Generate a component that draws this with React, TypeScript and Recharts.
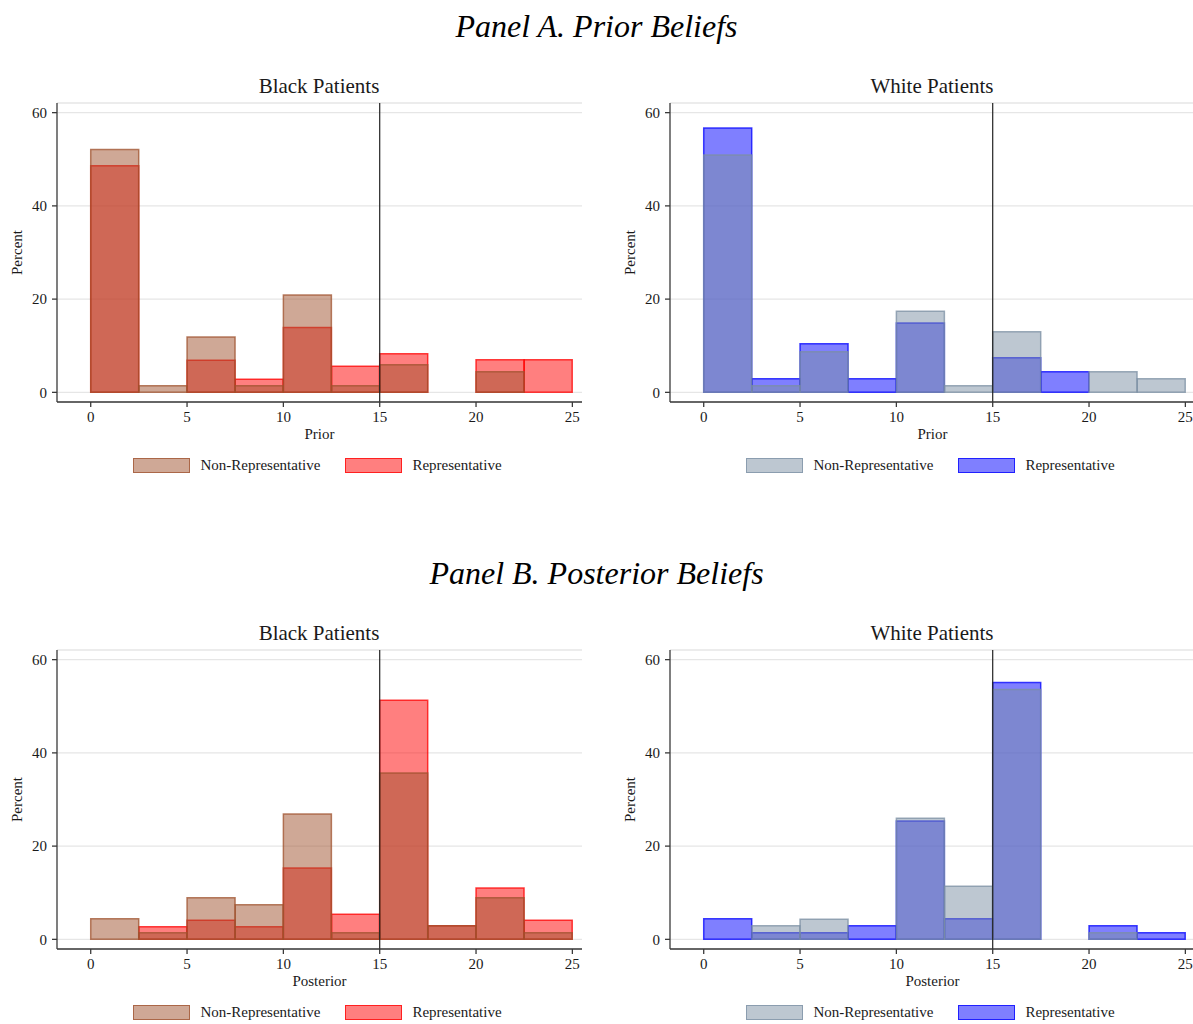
import React from 'react';
import { ComposedChart, Bar, XAxis, YAxis, CartesianGrid, ReferenceLine, Label } from 'recharts';

// histogram bins are 2.5 wide, 0 to 25
const binMids = [1.25, 3.75, 6.25, 8.75, 11.25, 13.75, 16.25, 18.75, 21.25, 23.75];
const xTicks = [0, 5, 10, 15, 20, 25];
const yTicks = [0, 20, 40, 60];
const cutoff = 15;

// Panel A: prior beliefs (percent)
const priorBlackNonRep = [52.1, 1.4, 11.9, 1.4, 20.9, 1.4, 5.9, 0, 4.4, 0];
const priorBlackRep = [48.6, 0, 6.9, 2.8, 13.9, 5.6, 8.3, 0, 7.0, 7.0];
const priorWhiteNonRep = [50.9, 1.4, 8.7, 0, 17.4, 1.4, 13.0, 0, 4.4, 2.9];
const priorWhiteRep = [56.7, 2.9, 10.4, 2.9, 14.9, 0, 7.4, 4.4, 0, 0];

// Panel B: posterior beliefs (percent)
const postBlackNonRep = [4.4, 1.4, 8.9, 7.4, 26.9, 1.4, 35.7, 2.9, 8.9, 1.4];
const postBlackRep = [0, 2.7, 4.1, 2.7, 15.3, 5.4, 51.3, 2.9, 11.0, 4.1];
const postWhiteNonRep = [0, 2.9, 4.3, 0, 26.0, 11.4, 53.6, 0, 1.4, 0];
const postWhiteRep = [4.4, 1.4, 1.4, 2.9, 25.4, 4.4, 55.1, 0, 2.9, 1.4];

const FONT = '"Liberation Serif", "Times New Roman", serif';
const TEXT = '#1a1a1a';
const AXIS = '#3a3a3a';

const blackColors = { non: '#9f512d', rep: '#ff0000' };
const whiteColors = { non: '#7b8fa3', rep: '#0000ff' };

const PercentLabel = (props: any) => {
  const vb = props.viewBox || { x: 0, y: 0, width: 0, height: 0 };
  const x = vb.x + 17;
  const y = vb.y + vb.height / 2;
  return (
    <text
      x={x}
      y={y}
      transform={`rotate(-90, ${x}, ${y})`}
      textAnchor="middle"
      dominantBaseline="central"
      style={{ fontFamily: FONT, fontSize: 15, fill: TEXT }}
    >
      Percent
    </text>
  );
};

const Swatch = ({ color }: { color: string }) => (
  <div style={{ position: 'relative', width: 57, height: 15, marginRight: 10 }}>
    <div style={{ position: 'absolute', inset: 0, background: color, opacity: 0.5 }} />
    <div style={{ position: 'absolute', inset: 0, border: `1.5px solid ${color}`, opacity: 0.75, boxSizing: 'border-box' }} />
  </div>
);

interface HistProps {
  left: number;
  top: number;
  title: string;
  xLabel: string;
  nonRep: number[];
  rep: number[];
  colors: { non: string; rep: string };
}

const Histogram: React.FC<HistProps> = ({ left, top, title, xLabel, nonRep, rep, colors }) => {
  const data = binMids.map((mid, i) => ({ mid, nonRep: nonRep[i], rep: rep[i] }));
  const xDomain = [-1.75, 25.5];
  return (
    <>
      <div
        style={{
          position: 'absolute', left: left + 19, top: top + 76, width: 600, textAlign: 'center',
          fontFamily: FONT, fontSize: 21, lineHeight: '21px', color: TEXT,
        }}
      >
        {title}
      </div>
      <div style={{ position: 'absolute', left, top: top + 95 }}>
        <ComposedChart
          width={600}
          height={355}
          data={data}
          margin={{ top: 8, right: 18, left: 0, bottom: 3 }}
          barCategoryGap={0}
          barGap={0}
        >
          <CartesianGrid vertical={false} stroke="#e6e6e6" strokeWidth={1.3} />
          <XAxis
            type="number"
            dataKey="mid"
            domain={xDomain}
            allowDataOverflow
            ticks={xTicks}
            height={45}
            tickSize={5}
            tickMargin={4}
            stroke={AXIS}
            strokeWidth={1.3}
            tick={{ fontFamily: FONT, fontSize: 15, fill: TEXT }}
          >
            <Label value={xLabel} position="insideBottom" offset={8} style={{ fontFamily: FONT, fontSize: 15, fill: TEXT }} />
          </XAxis>
          <XAxis xAxisId="over" type="number" dataKey="mid" domain={xDomain} allowDataOverflow hide />
          <YAxis
            type="number"
            domain={[-2.07, 62.07]}
            allowDataOverflow
            ticks={yTicks}
            width={57}
            tickSize={5}
            tickMargin={5}
            stroke={AXIS}
            strokeWidth={1.3}
            tick={{ fontFamily: FONT, fontSize: 15, fill: TEXT }}
          >
            <Label content={<PercentLabel />} />
          </YAxis>
          <Bar
            dataKey="rep"
            fill={colors.rep}
            fillOpacity={0.5}
            stroke={colors.rep}
            strokeOpacity={0.75}
            strokeWidth={1.5}
            isAnimationActive={false}
          />
          <Bar
            dataKey="nonRep"
            xAxisId="over"
            fill={colors.non}
            fillOpacity={0.5}
            stroke={colors.non}
            strokeOpacity={0.75}
            strokeWidth={1.5}
            isAnimationActive={false}
          />
          <ReferenceLine x={cutoff} stroke="#222" strokeWidth={1.2} />
        </ComposedChart>
      </div>
      <div
        style={{
          position: 'absolute', left, top: top + 458, width: 635, display: 'flex',
          justifyContent: 'center', alignItems: 'center', fontFamily: FONT, fontSize: 15, color: TEXT,
        }}
      >
        <Swatch color={colors.non} />
        <span style={{ marginRight: 25, lineHeight: '15px' }}>Non-Representative</span>
        <Swatch color={colors.rep} />
        <span style={{ lineHeight: '15px' }}>Representative</span>
      </div>
    </>
  );
};

const PanelTitle = ({ top, text }: { top: number; text: string }) => (
  <div
    style={{
      position: 'absolute', left: 0, top, width: 1193, textAlign: 'center',
      fontFamily: FONT, fontStyle: 'italic', fontSize: 32, lineHeight: '32px', color: '#000',
    }}
  >
    {text}
  </div>
);

export default function App() {
  return (
    <div
      style={{
        position: 'absolute', left: 0, top: 0, width: 1193, height: 1024,
        background: '#fff', overflow: 'hidden',
      }}
    >
      <PanelTitle top={10} text="Panel A. Prior Beliefs" />
      <Histogram left={0} top={0} title="Black Patients" xLabel="Prior" nonRep={priorBlackNonRep} rep={priorBlackRep} colors={blackColors} />
      <Histogram left={613} top={0} title="White Patients" xLabel="Prior" nonRep={priorWhiteNonRep} rep={priorWhiteRep} colors={whiteColors} />
      <PanelTitle top={557} text="Panel B. Posterior Beliefs" />
      <Histogram left={0} top={547} title="Black Patients" xLabel="Posterior" nonRep={postBlackNonRep} rep={postBlackRep} colors={blackColors} />
      <Histogram left={613} top={547} title="White Patients" xLabel="Posterior" nonRep={postWhiteNonRep} rep={postWhiteRep} colors={whiteColors} />
    </div>
  );
}
